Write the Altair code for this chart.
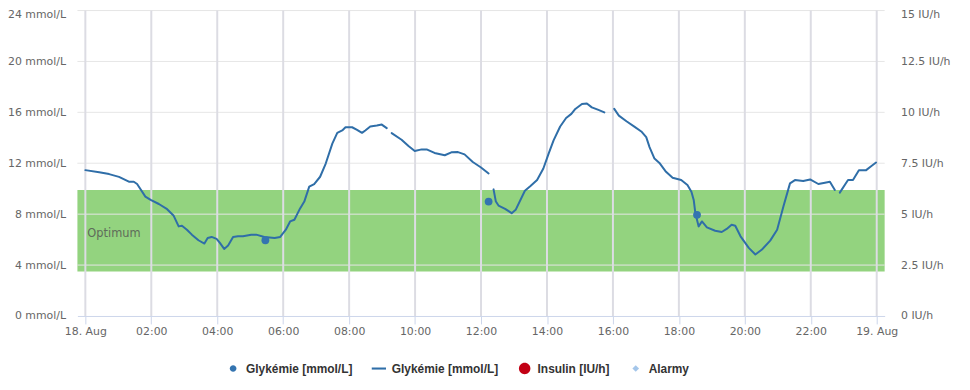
import altair as alt
import pandas as pd

# ---------------- data ----------------
seg1_hours = [0, 0.42, 0.72, 1.02, 1.32, 1.47, 1.57, 1.82, 1.98, 2.23, 2.48, 2.68, 2.83, 2.93, 3.08, 3.23,
              3.43, 3.61, 3.71, 3.83, 3.98, 4.08, 4.21, 4.33, 4.48, 4.63, 4.78, 5.03, 5.18, 5.43, 5.74,
              5.91, 6.08, 6.21, 6.34, 6.49, 6.64, 6.79, 6.94, 7.12, 7.29, 7.49, 7.64, 7.79, 7.89, 8.09,
              8.24, 8.39, 8.49, 8.64, 8.84, 8.99, 9.14]
seg1_mmol = [11.46, 11.3, 11.15, 10.93, 10.55, 10.55, 10.37, 9.38, 9.12, 8.8, 8.39, 7.87, 7.04, 7.09, 6.78, 6.39,
             5.95, 5.69, 6.13, 6.21, 6.06, 5.74, 5.27, 5.53, 6.21, 6.26, 6.26, 6.39, 6.39, 6.21, 6.13,
             6.21, 6.78, 7.43, 7.56, 8.34, 8.99, 10.16, 10.37, 10.94, 11.98, 13.54, 14.39, 14.58, 14.83, 14.83,
             14.63, 14.39, 14.58, 14.89, 14.96, 15.04, 14.76]

seg2_hours = [9.29, 9.59, 9.80, 9.99, 10.2, 10.35, 10.59, 10.9, 11.1, 11.3, 11.5, 11.75, 12.0, 12.23]
seg2_mmol = [14.37, 13.85, 13.35, 12.96, 13.09, 13.09, 12.81, 12.63, 12.86, 12.88, 12.7, 12.1, 11.67, 11.2]

seg3_hours = [12.38, 12.45, 12.53, 12.73, 12.93, 13.05, 13.33, 13.5, 13.7, 13.89, 14.05, 14.2, 14.4, 14.58,
              14.74, 14.86, 15.06, 15.21, 15.36, 15.56, 15.74]
seg3_mmol = [9.95, 8.99, 8.68, 8.42, 8.08, 8.34, 9.84, 10.21, 10.68, 11.59, 12.76, 13.8, 14.89, 15.56,
             15.88, 16.27, 16.66, 16.7, 16.39, 16.19, 16.0]

seg4_hours = [16.04, 16.18, 16.41, 16.66, 16.86, 17.01, 17.11, 17.26, 17.41, 17.61, 17.81, 18.07, 18.26, 18.38,
              18.45, 18.5, 18.6, 18.7, 18.85, 19.1, 19.3, 19.45, 19.6, 19.71, 19.87, 20.12, 20.32, 20.52,
              20.77, 20.98, 21.17, 21.37, 21.52, 21.77, 21.98, 22.23, 22.43, 22.58, 22.73]
seg4_mmol = [16.27, 15.74, 15.3, 14.86, 14.5, 14.05, 13.27, 12.37, 12.03, 11.33, 10.86, 10.68, 10.29, 9.77,
             9.12, 8.08, 7.04, 7.43, 6.96, 6.7, 6.6, 6.84, 7.17, 7.09, 6.26, 5.35, 4.83, 5.22,
             5.92, 6.78, 8.6, 10.42, 10.68, 10.6, 10.73, 10.37, 10.47, 10.55, 9.9]

seg5_hours = [22.88, 23.13, 23.28, 23.46, 23.68, 23.83, 23.98]
seg5_mmol = [9.69, 10.68, 10.68, 11.46, 11.46, 11.77, 12.06]

dot_hours = [5.46, 12.23, 18.55]
dot_mmol = [5.95, 8.99, 7.95]

band_low, band_high = 3.5, 9.9
band_label = "Optimum"

x_ticks = [0, 2, 4, 6, 8, 10, 12, 14, 16, 18, 20, 22, 24]
x_tick_labels = ["18. Aug", "02:00", "04:00", "06:00", "08:00", "10:00", "12:00",
                 "14:00", "16:00", "18:00", "20:00", "22:00", "19. Aug"]
x_min, x_max = -0.2406, 24.2406

y_ticks = [0, 4, 8, 12, 16, 20, 24]
y2_ticks = [0, 2.5, 5, 7.5, 10, 12.5, 15]

legend_keys = ["g_dot", "g_line", "insulin", "alarm"]
legend_labels = ["Glykémie [mmol/L]", "Glykémie [mmol/L]", "Insulin [IU/h]", "Alarmy"]
legend_colors = ["#3474b0", "#2f6ea8", "#c20014", "#a4c6ea"]
# symbol shapes drawn inside a common 16px legend symbol box
legend_shapes = [
    "M-0.42,0A0.42,0.42,0,1,1,0.42,0A0.42,0.42,0,1,1,-0.42,0Z",
    "M-0.9,-0.13L0.9,-0.13L0.9,0.13L-0.9,0.13Z",
    "M-0.72,0A0.72,0.72,0,1,1,0.72,0A0.72,0.72,0,1,1,-0.72,0Z",
    "M0,-0.42L0.42,0L0,0.42L-0.42,0Z",
]

LINE_COLOR = "#2f6ea8"
DOT_COLOR = "#3474b0"

# ---------------- tables ----------------
rows = []
for sid, (hs, vs) in enumerate([(seg1_hours, seg1_mmol), (seg2_hours, seg2_mmol), (seg3_hours, seg3_mmol),
                                (seg4_hours, seg4_mmol), (seg5_hours, seg5_mmol)]):
    for h, v in zip(hs, vs):
        rows.append({"h": h, "v": v, "seg": sid})
line_df = pd.DataFrame(rows)
dots_df = pd.DataFrame({"h": dot_hours, "v": dot_mmol})
band_df = pd.DataFrame({"x0": [x_min], "x1": [x_max], "lo": [band_low], "hi": [band_high],
                        "mid": [(band_low + band_high) / 2], "label": [band_label]})
vgrid_df = pd.DataFrame({"h": x_ticks})
hgrid_df = pd.DataFrame({"v": y_ticks[1:]})
y2_df = pd.DataFrame({"u": y2_ticks})
legend_df = pd.DataFrame({"series": legend_keys})

FONT = "DejaVu Sans"
label_arr = "[" + ",".join("'%s'" % s for s in x_tick_labels) + "]"

XS = alt.Scale(domain=[x_min, x_max], nice=False, zero=False)
YS = alt.Scale(domain=[0, 24], nice=False, zero=True)
X_AXIS = alt.Axis(values=x_ticks, labelExpr=label_arr + "[round(datum.value/2)]", grid=False,
                  domainColor="#ccd6eb", domainWidth=1, tickColor="#ccd6eb", tickSize=8, tickWidth=1,
                  labelFont=FONT, labelFontSize=11, labelColor="#666666", labelPadding=2,
                  labelAngle=0, title=None, labelFlush=False, labelOverlap=False)
Y_AXIS = alt.Axis(values=y_ticks, labelExpr="datum.value + ' mmol/L'", grid=False, domain=False,
                  ticks=False, tickSize=0, labelPadding=12, labelFont=FONT, labelFontSize=11,
                  labelColor="#666666", title=None, labelFlush=False,
                  labelOffset={"condition": {"test": "datum.value === 24", "value": 4}, "value": 0})


def X(field):
    return alt.X(field, type="quantitative", scale=XS, axis=X_AXIS)


def Y(field):
    return alt.Y(field, type="quantitative", scale=YS, axis=Y_AXIS)


band = alt.Chart(band_df).mark_rect(color="#93d37f").encode(
    x=X("x0"), x2="x1", y=Y("lo"), y2="hi")

band_text = alt.Chart(band_df).mark_text(align="left", baseline="middle", dx=10, dy=3, font=FONT,
                                         fontSize=11.5, color="#5f6b5a").encode(
    x=X("x0"), y=Y("mid"), text="label:N")

hgrid = alt.Chart(hgrid_df).mark_rule(color="#e6e6e6", strokeWidth=1).encode(y=Y("v"))
vgrid = alt.Chart(vgrid_df).mark_rule(color="#dcdce3", strokeWidth=2).encode(x=X("h"))

line = alt.Chart(line_df).mark_line(color=LINE_COLOR, strokeWidth=2, strokeJoin="round",
                                    strokeCap="round").encode(
    x=X("h"), y=Y("v"), detail="seg:N")

dots = alt.Chart(dots_df).mark_point(filled=True, opacity=1, size=62, color=DOT_COLOR).encode(
    x=X("h"), y=Y("v"))

label_expr = ""
for k, lab in zip(legend_keys, legend_labels):
    label_expr += "datum.value === '%s' ? '%s' : " % (k, lab)
label_expr += "''"

LEG = alt.Legend(title=None, orient="none", legendX=149, legendY=353, direction="horizontal",
                 labelExpr=label_expr, labelFont="Liberation Sans", labelFontWeight="bold",
                 labelFontSize=12, labelColor="#333333", labelOffset=5, columnPadding=18,
                 padding=0, symbolOpacity=1, symbolStrokeWidth=0, symbolSize=256)

legend_layer = alt.Chart(legend_df).transform_filter("datum.series === 'none'").mark_point(
    filled=True, opacity=1).encode(
    color=alt.Color("series:N", scale=alt.Scale(domain=legend_keys, range=legend_colors), legend=LEG),
    shape=alt.Shape("series:N", scale=alt.Scale(domain=legend_keys, range=legend_shapes), legend=LEG),
)

left = alt.layer(band, hgrid, vgrid, band_text, line, dots, legend_layer)

right = alt.Chart(y2_df).mark_rule(opacity=0).encode(
    y=alt.Y("u:Q", scale=alt.Scale(domain=[0, 15], nice=False),
            axis=alt.Axis(orient="right", values=y2_ticks, labelExpr="datum.value + ' IU/h'", grid=False,
                          domain=False, ticks=False, tickSize=0, labelPadding=16, labelFont=FONT,
                          labelFontSize=11, labelColor="#666666", title=None, labelFlush=False,
                          labelOffset={"condition": {"test": "datum.value === 15", "value": 4},
                                       "value": 0})))

chart = alt.layer(left, right).resolve_scale(y="independent").properties(
    width=814, height=308,
    autosize=alt.AutoSizeParams(type="none"),
    padding={"left": 70, "top": 1, "right": 78, "bottom": 64},
    background="white",
).configure_view(stroke="transparent")

chart.save("out.html", embed_options={"renderer": "svg", "actions": False})
